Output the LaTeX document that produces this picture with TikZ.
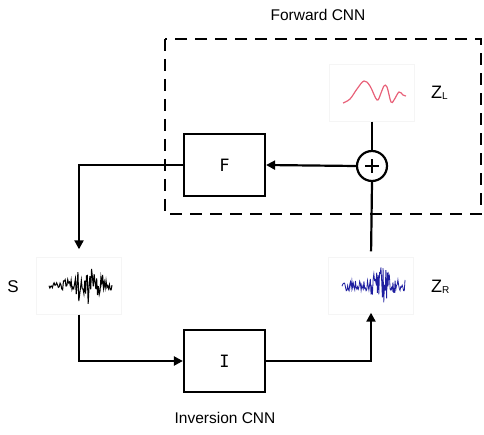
\documentclass[tikz,border=0pt]{standalone}
\usepackage{fontspec}
\setmainfont{Liberation Sans}
\newfontfamily\monofont{DejaVu Sans Mono}
\usetikzlibrary{arrows.meta}
\definecolor{wavered}{RGB}{232,96,120}
\definecolor{waveblue}{RGB}{30,30,160}
\begin{document}
\begin{tikzpicture}[x=1pt,y=-1pt,
  block/.style={draw, line width=2.2pt, minimum width=81pt, minimum height=62pt, inner sep=0pt, font=\monofont\fontsize{17}{17}\selectfont},
  imgbox/.style={draw=black!4, line width=0.4pt, minimum width=85pt, minimum height=57pt, inner sep=0pt},
  conn/.style={line width=2.2pt, -{Triangle[length=9pt,width=9pt]}},
  plain/.style={line width=2.2pt},
  lbl/.style={font=\fontsize{15.5}{16}\selectfont},
  zlbl/.style={font=\fontsize{18}{18}\selectfont, anchor=west, inner sep=0pt}
]
\useasboundingbox (0,0) rectangle (484,435);
% dashed forward CNN region
\draw[line width=2.8pt, dash pattern=on 12pt off 8pt] (165,39) rectangle (481,214);
\node[lbl] (fwd) at (318,15) {Forward CNN};
\node[lbl] (inv) at (225,418) {Inversion CNN};

% blocks
\node[block] (F) at (224.5,165) {F};
\node[block] (I) at (224.5,361) {I};
\node[draw, circle, line width=2.2pt, minimum size=30pt, inner sep=0pt] (sum) at (372,166) {};
\draw[line width=2.2pt] ([xshift=-7pt]sum.center) -- ([xshift=7pt]sum.center)
      ([yshift=-7pt]sum.center) -- ([yshift=7pt]sum.center);

% image boxes
\node[imgbox] (ZL) at (372,93) {};
\node[imgbox] (S) at (79,286) {};
\node[imgbox] (ZR) at (371,286) {};

% waveforms
\draw[wavered, line width=1.2pt] plot[smooth, tension=0.6] coordinates {(343,103) (350,99) (357,89) (364,81) (370,86) (377,100) (381,93) (384,86) (387,87) (391,102) (394,100) (399,92) (403,95) (406,96)};
\pgfmathsetseed{7}
\draw[black, line width=1pt] plot[domain=49:112, samples=75]
  (\x, {285 + (4 + 20*exp(-((\x-86)/16)^2))*rand*abs(rand)^0.3});
\pgfmathsetseed{11}
\draw[waveblue, line width=0.8pt] plot[domain=342:405, samples=90]
  (\x, {286 + (6 + 14*exp(-((\x-381)/9)^2))*rand});

% labels
\node[zlbl] (zll) at (431,93) {Z\raisebox{-0.5pt}{\fontsize{10}{10}\selectfont L}};
\node[zlbl] (zrl) at (431,287) {Z\raisebox{-0.5pt}{\fontsize{10}{10}\selectfont R}};
\node[font=\fontsize{17}{17}\selectfont, inner sep=0pt] (slbl) at (13,287) {S};

% connectors
\draw[plain] (ZL.south) -- (sum.north);
\draw[conn] (sum.west) -- (F.east);
\draw[conn, shorten >=8pt] (F.west) -| (S.north);
\draw[conn] (S.south) |- (I.west);
\draw[conn, shorten >=-2pt] (I.east) -| (ZR.south);
\draw[plain, shorten >=6pt] (sum.south) -- (ZR.north);
\end{tikzpicture}
\end{document}
